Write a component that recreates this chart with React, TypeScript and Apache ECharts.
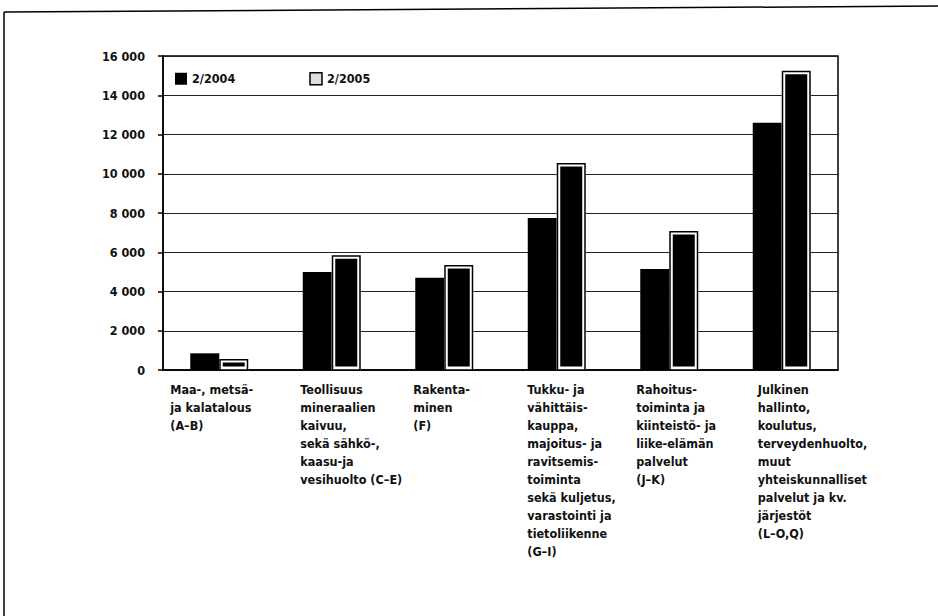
import React, { useEffect, useRef } from "react";
import * as echarts from "echarts";

const categories = [
  ["Maa-, metsä-", "ja kalatalous", "(A–B)"],
  ["Teollisuus", "mineraalien", "kaivuu,", "sekä sähkö-,", "kaasu-ja", "vesihuolto (C–E)"],
  ["Rakenta-", "minen", "(F)"],
  ["Tukku- ja", "vähittäis-", "kauppa,", "majoitus- ja", "ravitsemis-", "toiminta", "sekä kuljetus,", "varastointi ja", "tietoliikenne", "(G–I)"],
  ["Rahoitus-", "toiminta ja", "kiinteistö- ja", "liike-elämän", "palvelut", "(J–K)"],
  ["Julkinen", "hallinto,", "koulutus,", "terveydenhuolto,", "muut", "yhteiskunnalliset", "palvelut ja kv.", "järjestöt", "(L–O,Q)"],
];
const seriesNames = ["2/2004", "2/2005"];
const values2004 = [850, 5000, 4700, 7750, 5150, 12600];
const values2005 = [560, 5850, 5350, 10550, 7080, 15250];
const yTicks = { min: 0, max: 16000, interval: 2000 };

// layout-only constants
const labelBoxWidths = [98, 63, 62, 59, 66, 48];
const BAR_W = 29;
const FONT = "'DejaVu Sans Condensed', 'Liberation Sans Narrow', 'Liberation Sans', sans-serif";

export default function App() {
  const ref = useRef<HTMLDivElement>(null);
  useEffect(() => {
    if (!ref.current) return;
    const chart = echarts.init(ref.current, null, { renderer: "svg" });
    const rich: Record<string, any> = {};
    labelBoxWidths.forEach((w, i) => {
      rich["c" + i] = {
        width: w,
        align: "left",
        fontSize: 12.5,
        fontWeight: "bold",
        lineHeight: 18,
        fontFamily: FONT,
        color: "#111",
      };
    });
    chart.setOption({
      animation: false,
      backgroundColor: "#fff",
      graphic: [
        { type: "line", shape: { x1: 4, y1: 12, x2: 4, y2: 616 }, style: { stroke: "#000", lineWidth: 1.5 } },
        { type: "line", shape: { x1: 4, y1: 12, x2: 938, y2: 6 }, style: { stroke: "#000", lineWidth: 1.5 } },
      ],
      legend: {
        left: 170,
        top: 67,
        itemWidth: 12,
        itemHeight: 12,
        itemGap: 74,
        textStyle: { fontFamily: FONT, fontSize: 12.5, fontWeight: "bold", color: "#111" },
        data: [
          { name: seriesNames[0], icon: "rect", itemStyle: { color: "#000" } },
          { name: seriesNames[1], icon: "rect", itemStyle: { color: "#ddd", borderColor: "#000", borderWidth: 1.5 } },
        ],
      },
      grid: {
        left: 163,
        right: 100,
        top: 56,
        bottom: 246,
        show: true,
        borderColor: "#000",
        borderWidth: 1.5,
        backgroundColor: "transparent",
      },
      xAxis: {
        type: "category",
        data: categories.map((c) => c.join(" ")),
        axisLine: { lineStyle: { color: "#000", width: 1.5 } },
        axisTick: { show: false },
        axisLabel: {
          interval: 0,
          margin: 10,
          align: "center",
          verticalAlign: "top",
          formatter: (_v: string, idx: number) =>
            categories[idx].map((l) => `{c${idx}|${l}}`).join("\n"),
          rich,
        },
      },
      yAxis: {
        type: "value",
        min: yTicks.min,
        max: yTicks.max,
        interval: yTicks.interval,
        axisLine: { show: true, lineStyle: { color: "#000", width: 1.5 } },
        axisTick: { show: true, length: 5, lineStyle: { color: "#000", width: 1.5 } },
        axisLabel: {
          margin: 18,
          fontFamily: FONT,
          fontSize: 12.5,
          fontWeight: "bold",
          color: "#111",
          formatter: (v: number) => String(v).replace(/\B(?=(\d{3})+(?!\d))/g, " "),
        },
        splitLine: { lineStyle: { color: "#222", width: 1 } },
      },
      series: [
        {
          name: seriesNames[0],
          type: "bar",
          data: values2004,
          barWidth: BAR_W,
          barGap: "0%",
          itemStyle: { color: "#000" },
        },
        {
          name: seriesNames[1],
          type: "bar",
          data: values2005,
          barWidth: BAR_W,
          barGap: "0%",
          itemStyle: { color: "#000", borderColor: "#fff", borderWidth: 3.5 },
        },
        {
          name: "outline2005",
          type: "custom",
          data: values2005.map((v, i) => [i, v]),
          encode: { x: 0, y: 1 },
          z: 5,
          silent: true,
          renderItem: (_p: any, api: any) => {
            const i = api.value(0);
            const v = api.value(1);
            const top = api.coord([i, v]);
            const base = api.coord([i, 0]);
            return {
              type: "rect",
              shape: { x: top[0] + 0.75, y: top[1] + 0.75, width: BAR_W - 1.5, height: base[1] - top[1] - 0.75 },
              style: { fill: "none", stroke: "#000", lineWidth: 1.5 },
            };
          },
        },
      ],
    });
    return () => chart.dispose();
  }, []);
  return <div ref={ref} style={{ width: 938, height: 616, position: "absolute", left: 0, top: 0 }} />;
}
